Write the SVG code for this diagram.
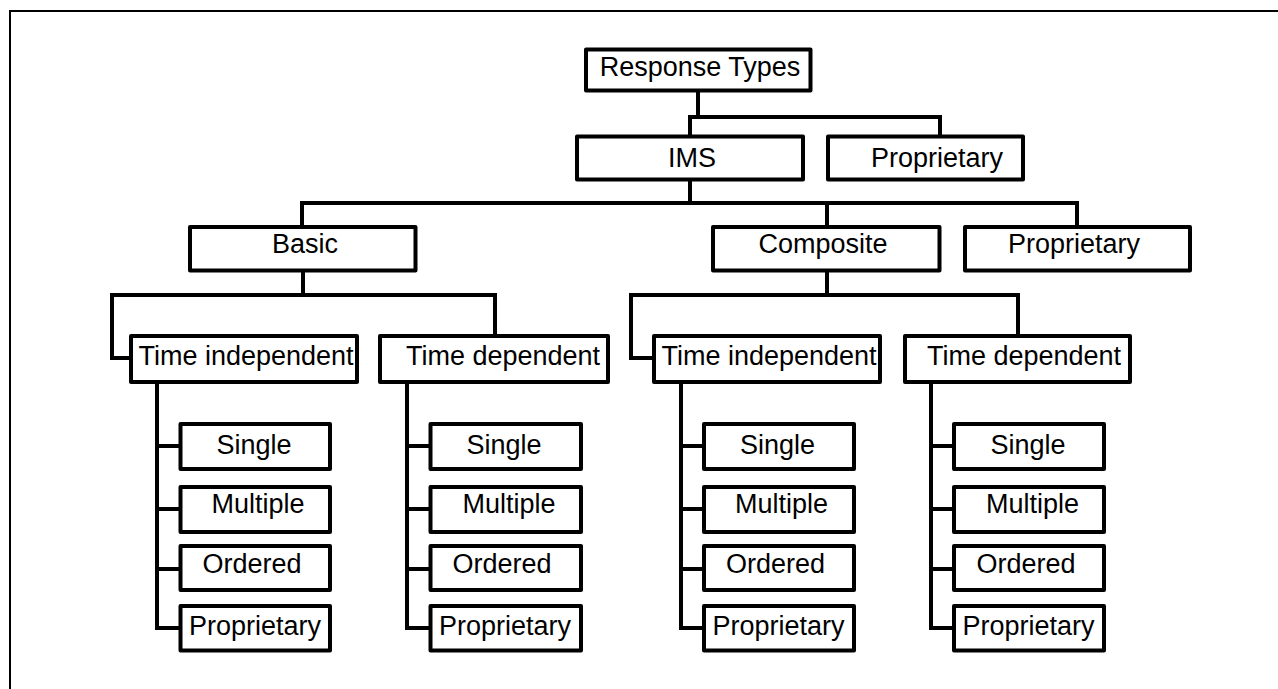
<svg xmlns="http://www.w3.org/2000/svg" width="1278" height="689" viewBox="0 0 1278 689">
<style>
.box{fill:#fff;stroke:#000;stroke-width:4;stroke-linejoin:round}
.ln{fill:none;stroke:#000;stroke-width:4;stroke-linejoin:miter;stroke-linecap:square}
text{font-family:"Liberation Sans",Arial,sans-serif;font-size:27px;fill:#000;text-anchor:middle}
</style>
<rect width="1278" height="689" fill="#fff"/>
<path d="M10,689 V11 H1278" fill="none" stroke="#000" stroke-width="2"/>
<g id="connectors" class="ln">
<path d="M698,91 V117 M690,136 V117 H940 V136"/>
<path d="M690,180 V203 M302,227 V203 H1077 V227 M827,203 V227"/>
<path d="M303,271 V295 M130,358 H112 V295 H495 V336"/>
<path d="M827,271 V295 M654,358 H631 V295 H1018 V336"/>
<path d="M157,382 V628 H180 M157,446 H180 M157,509 H180 M157,569 H180"/>
<path d="M407,382 V628 H430 M407,446 H430 M407,509 H430 M407,569 H430"/>
<path d="M681,382 V628 H704 M681,446 H704 M681,509 H704 M681,569 H704"/>
<path d="M931,382 V628 H954 M931,446 H954 M931,509 H954 M931,569 H954"/>
</g>
<g id="n-root"><rect class="box" x="586" y="49.5" width="224.5" height="41"/><text x="700" y="76">Response Types</text></g>
<g id="n-ims"><rect class="box" x="577" y="136.5" width="226" height="43"/><text x="692" y="167">IMS</text></g>
<g id="n-prop1"><rect class="box" x="828" y="136.5" width="195" height="43"/><text x="937" y="167">Proprietary</text></g>
<g id="n-basic"><rect class="box" x="190" y="227" width="225.5" height="43.5"/><text x="305" y="253">Basic</text></g>
<g id="n-composite"><rect class="box" x="713" y="227" width="226.5" height="43.5"/><text x="823" y="253">Composite</text></g>
<g id="n-prop2"><rect class="box" x="965" y="227" width="225" height="43.5"/><text x="1074" y="253">Proprietary</text></g>
<g id="n-b-ti"><rect class="box" x="131" y="336" width="226" height="46"/><text x="246" y="365">Time independent</text></g>
<g id="n-b-td"><rect class="box" x="380" y="336" width="228" height="46"/><text x="503" y="365">Time dependent</text></g>
<g id="n-c-ti"><rect class="box" x="654" y="336" width="226" height="46"/><text x="769" y="365">Time independent</text></g>
<g id="n-c-td"><rect class="box" x="905" y="336" width="225" height="46"/><text x="1024" y="365">Time dependent</text></g>
<g id="n-b-ti-single"><rect class="box" x="180.5" y="424" width="149.5" height="45"/><text x="254" y="454">Single</text></g>
<g id="n-b-ti-multiple"><rect class="box" x="180.5" y="487" width="149.5" height="45"/><text x="258" y="513">Multiple</text></g>
<g id="n-b-ti-ordered"><rect class="box" x="180.5" y="546" width="149.5" height="44"/><text x="252" y="573">Ordered</text></g>
<g id="n-b-ti-prop"><rect class="box" x="180.5" y="606" width="149.5" height="44.5"/><text x="255" y="635">Proprietary</text></g>
<g id="n-b-td-single"><rect class="box" x="430.5" y="424" width="150.5" height="45"/><text x="504" y="454">Single</text></g>
<g id="n-b-td-multiple"><rect class="box" x="430.5" y="487" width="150.5" height="45"/><text x="509" y="513">Multiple</text></g>
<g id="n-b-td-ordered"><rect class="box" x="430.5" y="546" width="150.5" height="44"/><text x="502" y="573">Ordered</text></g>
<g id="n-b-td-prop"><rect class="box" x="430.5" y="606" width="150.5" height="44.5"/><text x="505" y="635">Proprietary</text></g>
<g id="n-c-ti-single"><rect class="box" x="704" y="424" width="150" height="45"/><text x="777.5" y="454">Single</text></g>
<g id="n-c-ti-multiple"><rect class="box" x="704" y="487" width="150" height="45"/><text x="781.5" y="513">Multiple</text></g>
<g id="n-c-ti-ordered"><rect class="box" x="704" y="546" width="150" height="44"/><text x="775.5" y="573">Ordered</text></g>
<g id="n-c-ti-prop"><rect class="box" x="704" y="606" width="150" height="44.5"/><text x="778.5" y="635">Proprietary</text></g>
<g id="n-c-td-single"><rect class="box" x="954" y="424" width="150" height="45"/><text x="1028" y="454">Single</text></g>
<g id="n-c-td-multiple"><rect class="box" x="954" y="487" width="150" height="45"/><text x="1032.5" y="513">Multiple</text></g>
<g id="n-c-td-ordered"><rect class="box" x="954" y="546" width="150" height="44"/><text x="1026" y="573">Ordered</text></g>
<g id="n-c-td-prop"><rect class="box" x="954" y="606" width="150" height="44.5"/><text x="1028.5" y="635">Proprietary</text></g>
</svg>
